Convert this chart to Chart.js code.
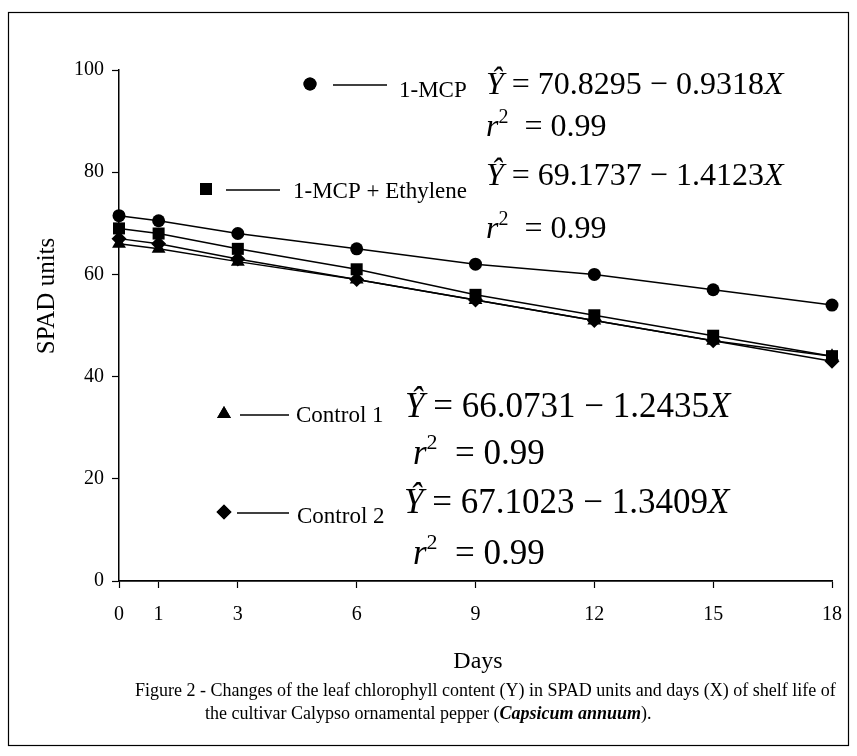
<!DOCTYPE html>
<html>
<head>
<meta charset="utf-8">
<script src="https://cdn.jsdelivr.net/npm/chart.js@4.4.1/dist/chart.umd.min.js"></script>
<style>
  html, body { margin: 0; padding: 0; background: #fff; }
  #wrap { width: 857px; height: 756px; }
</style>
</head>
<body>
<div id="wrap"><canvas id="chart" width="857" height="756"></canvas></div>
<script>
// Days of shelf life and SPAD readings
const days = [0, 1, 3, 6, 9, 12, 15, 18];
const xTicks = [0, 1, 3, 6, 9, 12, 15, 18];
const yTicks = [0, 20, 40, 60, 80, 100];

const mcp = [71.5, 70.5, 68, 65, 62, 60, 57, 54];
const mcpEthylene = [69, 68, 65, 61, 56, 52, 48, 44];
const control1 = [66, 65, 62.5, 59, 55, 51, 47, 44];
const control2 = [67, 66, 63, 59, 55, 51, 47, 43];

const seriesNames = ['1-MCP', '1-MCP + Ethylene', 'Control 1', 'Control 2'];
const equations = [
    ['70.8295', '0.9318'],
    ['69.1737', '1.4123'],
    ['66.0731', '1.2435'],
    ['67.1023', '1.3409']
];
const rSquared = ['0.99', '0.99', '0.99', '0.99'];

const SERIF = '"Liberation Serif", "Times New Roman", serif';

function toPoints(arr) {
    return days.map((d, i) => ({ x: d, y: arr[i] }));
}

function makeSet(label, arr, style, radius) {
    return {
        label,
        data: toPoints(arr),
        borderColor: '#000',
        backgroundColor: '#000',
        borderWidth: 1.5,
        pointStyle: style,
        pointRadius: radius,
        pointBorderWidth: 0,
        pointBackgroundColor: '#000',
        tension: 0,
        clip: false
    };
}

// where the hand-placed legend / equation blocks sit
const noteLayout = [
    { mark: [310, 84], line: [333, 387], label: [399, 97], eq: [486, 94], r2: [486, 136], eqSize: 32 },
    { mark: [206, 189], line: [226, 280], label: [293, 198], eq: [486, 185], r2: [486, 238], eqSize: 32 },
    { mark: [224, 414], line: [240, 289], label: [296, 422], eq: [405, 417], r2: [413, 464], eqSize: 35 },
    { mark: [224, 512], line: [237, 289], label: [297, 523], eq: [404, 513], r2: [413, 564], eqSize: 35 }
];

function drawPieces(ctx, x, y, pieces) {
    pieces.forEach(p => {
        ctx.font = p.font;
        ctx.fillText(p.text, x, y + (p.dy || 0));
        x += ctx.measureText(p.text).width;
    });
    return x;
}

const framePlugin = {
    id: 'frame',
    beforeDraw(chart) {
        const ctx = chart.ctx;
        ctx.save();
        ctx.fillStyle = '#fff';
        ctx.fillRect(0, 0, chart.width, chart.height);
        ctx.strokeStyle = '#000';
        ctx.lineWidth = 1.2;
        ctx.strokeRect(8.5, 12.5, 840, 733);
        ctx.restore();
    }
};

const notesPlugin = {
    id: 'notes',
    afterDraw(chart) {
        const ctx = chart.ctx;
        const sets = chart.data.datasets;
        ctx.save();
        ctx.fillStyle = '#000';
        ctx.strokeStyle = '#000';
        ctx.textBaseline = 'alphabetic';

        noteLayout.forEach((n, i) => {
            const ds = sets[i];
            Chart.helpers.drawPoint(ctx, { pointStyle: ds.pointStyle, radius: ds.pointRadius, borderWidth: 0 }, n.mark[0], n.mark[1]);
            ctx.fill();
            ctx.lineWidth = 1.3;
            ctx.beginPath();
            ctx.moveTo(n.line[0], n.mark[1] + 1);
            ctx.lineTo(n.line[1], n.mark[1] + 1);
            ctx.stroke();

            ctx.font = '23px ' + SERIF;
            ctx.fillText(seriesNames[i], n.label[0], n.label[1]);

            const s = n.eqSize;
            const ital = 'italic ' + s + 'px ' + SERIF;
            const norm = s + 'px ' + SERIF;
            drawPieces(ctx, n.eq[0], n.eq[1], [
                { text: '\u0176', font: ital },
                { text: ' = ' + equations[i][0] + ' \u2212 ' + equations[i][1], font: norm },
                { text: 'X', font: ital }
            ]);
            drawPieces(ctx, n.r2[0], n.r2[1], [
                { text: 'r', font: ital },
                { text: '2', font: Math.round(s * 0.62) + 'px ' + SERIF, dy: -s * 0.42 },
                { text: '  = ' + rSquared[i], font: norm }
            ]);
        });

        // axis titles
        ctx.font = '24px ' + SERIF;
        ctx.textAlign = 'center';
        ctx.fillText('Days', 478, 668);
        ctx.save();
        ctx.translate(54, 296);
        ctx.rotate(-Math.PI / 2);
        ctx.font = '25px ' + SERIF;
        ctx.fillText('SPAD units', 0, 0);
        ctx.restore();

        // figure caption
        ctx.textAlign = 'left';
        ctx.font = '18px ' + SERIF;
        ctx.fillText('Figure 2 - Changes of the leaf chlorophyll content (Y) in SPAD units and days (X) of shelf life of', 135, 696);
        drawPieces(ctx, 205, 719, [
            { text: 'the cultivar Calypso ornamental pepper (', font: '18px ' + SERIF },
            { text: 'Capsicum annuum', font: 'italic bold 18px ' + SERIF },
            { text: ').', font: '18px ' + SERIF }
        ]);
        ctx.restore();
    }
};

const tickFont = { family: SERIF, size: 20 };

new Chart(document.getElementById('chart'), {
    type: 'line',
    data: {
        datasets: [
            makeSet(seriesNames[0], mcp, 'circle', 6.5),
            makeSet(seriesNames[1], mcpEthylene, 'rect', 8.5),
            makeSet(seriesNames[2], control1, 'triangle', 8),
            makeSet(seriesNames[3], control2, 'rectRot', 7.5)
        ]
    },
    options: {
        responsive: false,
        animation: false,
        layout: { padding: { left: 0, right: 24, top: 70, bottom: 130 } },
        plugins: {
            legend: { display: false },
            tooltip: { enabled: false }
        },
        scales: {
            x: {
                type: 'linear',
                min: 0,
                max: 18,
                afterBuildTicks: scale => { scale.ticks = xTicks.map(v => ({ value: v })); },
                afterFit: scale => { scale.height = 45; },
                grid: { drawOnChartArea: false, drawTicks: true, tickLength: 7, color: '#000', tickWidth: 1.2 },
                border: { color: '#000', width: 1.8 },
                ticks: { font: tickFont, color: '#000', padding: 15, autoSkip: false, maxRotation: 0 }
            },
            y: {
                min: 0,
                max: 100,
                afterBuildTicks: scale => { scale.ticks = yTicks.map(v => ({ value: v })); },
                afterFit: scale => { scale.width = 119; },
                grid: { drawOnChartArea: false, drawTicks: true, tickLength: 7, color: '#000', tickWidth: 1.2 },
                border: { color: '#000', width: 1.5 },
                ticks: { font: tickFont, color: '#000', padding: 8 }
            }
        }
    },
    plugins: [framePlugin, notesPlugin]
});
</script>
</body>
</html>
